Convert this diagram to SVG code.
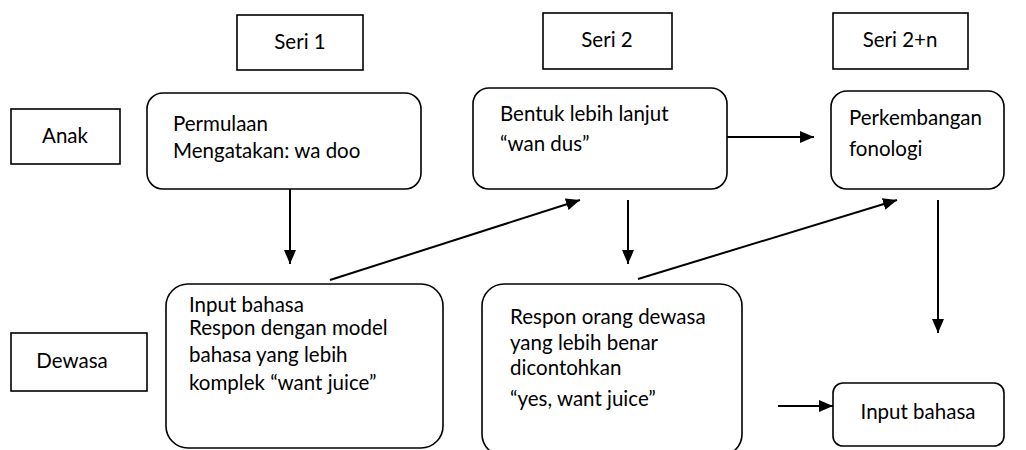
<svg xmlns="http://www.w3.org/2000/svg" width="1026" height="450" viewBox="0 0 1026 450">
<defs>
<style>
rect{fill:#fff;stroke:#000;stroke-width:1.6}
text{font-family:Lato,"Open Sans",sans-serif;font-size:20.5px;fill:#000}
.c{text-anchor:middle}
.ln{stroke:#000;stroke-width:2;fill:none;marker-end:url(#ah)}
</style>
<marker id="ah" viewBox="0 0 14 12" refX="14" refY="6" markerWidth="14" markerHeight="12" markerUnits="userSpaceOnUse" orient="auto">
<path d="M0,0 L14,6 L0,12 z" fill="#000"/>
</marker>
</defs>
<rect width="1026" height="450" style="stroke:none"/>
<g id="seri1"><rect x="237" y="15" width="126" height="55"/><text class="c" x="300" y="49">Seri 1</text></g>
<g id="seri2"><rect x="543" y="13" width="129" height="56"/><text class="c" x="607" y="47">Seri 2</text></g>
<g id="seri2n"><rect x="833" y="13" width="135" height="56"/><text class="c" x="900" y="47">Seri 2+n</text></g>
<g id="anak"><rect x="11" y="109" width="109" height="55"/><text class="c" x="65" y="143">Anak</text></g>
<g id="dewasa"><rect x="11" y="333" width="136" height="58"/><text class="c" x="72" y="368">Dewasa</text></g>
<g id="permulaan"><rect x="147" y="93" width="274" height="96" rx="16"/><text x="173" y="131">Permulaan</text><text x="173" y="158">Mengatakan: wa doo</text></g>
<g id="bentuk"><rect x="473" y="88" width="254" height="101" rx="16"/><text x="500" y="121">Bentuk lebih lanjut</text><text x="500" y="151">“wan dus”</text></g>
<g id="perkembangan"><rect x="831" y="91" width="173" height="98" rx="16"/><text x="849" y="125">Perkembangan</text><text x="849" y="156">fonologi</text></g>
<g id="input1"><rect x="166" y="284" width="277" height="164" rx="22"/><text x="189" y="312">Input bahasa</text><text x="189" y="335">Respon dengan model</text><text x="189" y="362">bahasa yang lebih</text><text x="189" y="390">komplek “want juice”</text></g>
<g id="respon"><rect x="482" y="284" width="260" height="172" rx="22"/><text x="510" y="324">Respon orang dewasa</text><text x="510" y="350">yang lebih benar</text><text x="510" y="375">dicontohkan</text><text x="510" y="406">“yes, want juice”</text></g>
<g id="input2"><rect x="833" y="383" width="171" height="63" rx="10"/><text class="c" x="918" y="419">Input bahasa</text></g>
<g id="connectors">
<line class="ln" x1="290" y1="189" x2="290" y2="264"/>
<line class="ln" x1="330" y1="280" x2="580" y2="200"/>
<line class="ln" x1="628" y1="200" x2="628" y2="264"/>
<line class="ln" x1="638" y1="279" x2="897" y2="200"/>
<line class="ln" x1="727" y1="137" x2="814" y2="137"/>
<line class="ln" x1="938" y1="200" x2="938" y2="333"/>
<line class="ln" x1="778" y1="406" x2="833" y2="406"/>
</g>
</svg>
